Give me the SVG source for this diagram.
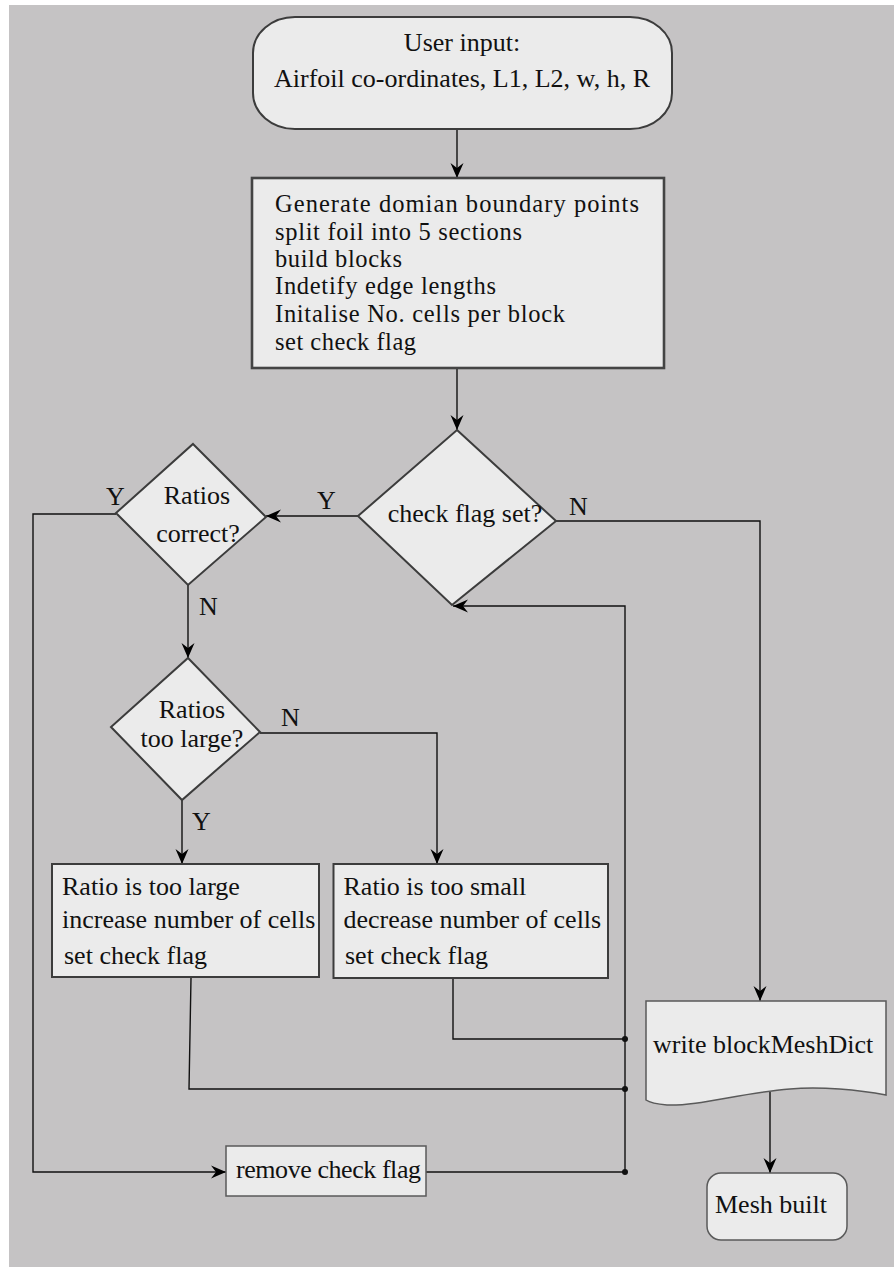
<svg xmlns="http://www.w3.org/2000/svg" width="894" height="1267" viewBox="0 0 894 1267">
<style>
.bg{fill:#c5c3c4}
.node{fill:#ebebeb;stroke:#3c3c3c;stroke-width:2}
.thick{stroke:#444;stroke-width:2.6}
.thin{stroke:#5a5a5a;stroke-width:1.5}
text{font-family:"Liberation Serif","Times New Roman",serif;font-size:26px;fill:#111}
.p{font-size:24.5px}
.c{text-anchor:middle}
.conn{fill:none;stroke:#111;stroke-width:1.4}
.dot{fill:#111}
</style>
<defs>
<marker id="arr" markerUnits="userSpaceOnUse" markerWidth="20" markerHeight="16" viewBox="-16 -8 18 16" refX="0" refY="0" orient="auto">
<path d="M0,0 L-15,-6.5 L-10,0 L-15,6.5 Z" fill="#000"/>
</marker>
</defs>
<rect class="bg" x="9" y="5" width="885" height="1262"/>

<g id="connectors">
<path class="conn" d="M457,129 V178" marker-end="url(#arr)"/>
<path class="conn" d="M457,368 V430" marker-end="url(#arr)"/>
<path class="conn" d="M358,516 H266" marker-end="url(#arr)"/>
<path class="conn" d="M556,521 H760 V1001" marker-end="url(#arr)"/>
<path class="conn" d="M625,1172 V606 H453" marker-end="url(#arr)"/>
<path class="conn" d="M116,514 H33 V1172 H226" marker-end="url(#arr)"/>
<path class="conn" d="M188,585 V658" marker-end="url(#arr)"/>
<path class="conn" d="M182,800 V864" marker-end="url(#arr)"/>
<path class="conn" d="M260,733 H437 V864" marker-end="url(#arr)"/>
<path class="conn" d="M191,978 L189,1089 H625"/>
<path class="conn" d="M453,978 V1039 H625"/>
<path class="conn" d="M426,1172 H625"/>
<path class="conn" d="M770,1092 V1173" marker-end="url(#arr)"/>
<circle class="dot" cx="625" cy="1039" r="3"/>
<circle class="dot" cx="625" cy="1089" r="3"/>
<circle class="dot" cx="625" cy="1172" r="3"/>
<text x="317" y="509">Y</text>
<text x="569" y="515">N</text>
<text x="106" y="505">Y</text>
<text x="199" y="615">N</text>
<text x="281" y="726">N</text>
<text x="192" y="830">Y</text>
</g>

<g id="start">
<rect class="node" x="253" y="17" width="419" height="112" rx="42" ry="36"/>
<text class="c" x="462" y="51">User input:</text>
<text class="c" x="462" y="87">Airfoil co-ordinates, L1, L2, w, h, R</text>
</g>

<g id="generate">
<rect class="node thick" x="252" y="178" width="412" height="190"/>
<text class="p" x="275" y="212" textLength="364">Generate domian boundary points</text>
<text class="p" x="275" y="240" textLength="247">split foil into 5 sections</text>
<text class="p" x="275" y="267" textLength="127">build blocks</text>
<text class="p" x="275" y="294" textLength="221">Indetify edge lengths</text>
<text class="p" x="275" y="322" textLength="290">Initalise No. cells per block</text>
<text class="p" x="275" y="350" textLength="141">set check flag</text>
</g>

<g id="checkflag">
<polygon class="node" points="457,430 556,521 452,605 358,516"/>
<text class="c" x="465" y="522">check flag set?</text>
</g>

<g id="ratioscorrect">
<polygon class="node" points="193,444 266,517 188,585 116,513"/>
<text class="c" x="197" y="504">Ratios</text>
<text class="c" x="198" y="542">correct?</text>
</g>

<g id="ratioslarge">
<polygon class="node" points="188,658 260,732 182,800 111,727"/>
<text class="c" x="192" y="718">Ratios</text>
<text class="c" x="192" y="747">too large?</text>
</g>

<g id="toolarge">
<rect class="node" x="52" y="864" width="267" height="113"/>
<text x="62" y="895">Ratio is too large</text>
<text x="62" y="928">increase number of cells</text>
<text x="64" y="964">set check flag</text>
</g>

<g id="toosmall">
<rect class="node" x="333.5" y="864" width="274.5" height="114"/>
<text x="343.5" y="895">Ratio is too small</text>
<text x="343.5" y="928">decrease number of cells</text>
<text x="345" y="964">set check flag</text>
</g>

<g id="remove">
<rect class="node thin" x="226" y="1146" width="200" height="50"/>
<text x="236" y="1178" textLength="185">remove check flag</text>
</g>

<g id="write">
<path class="node thin" d="M646,1001 H886 V1095 C860,1090 820,1086 790,1089 C740,1093 700,1106 667,1105 C656,1104 649,1102 646,1100 Z"/>
<text x="653" y="1053">write blockMeshDict</text>
</g>

<g id="meshbuilt">
<rect class="node thin" x="707" y="1173" width="140" height="67" rx="14"/>
<text x="715" y="1213">Mesh built</text>
</g>
</svg>
